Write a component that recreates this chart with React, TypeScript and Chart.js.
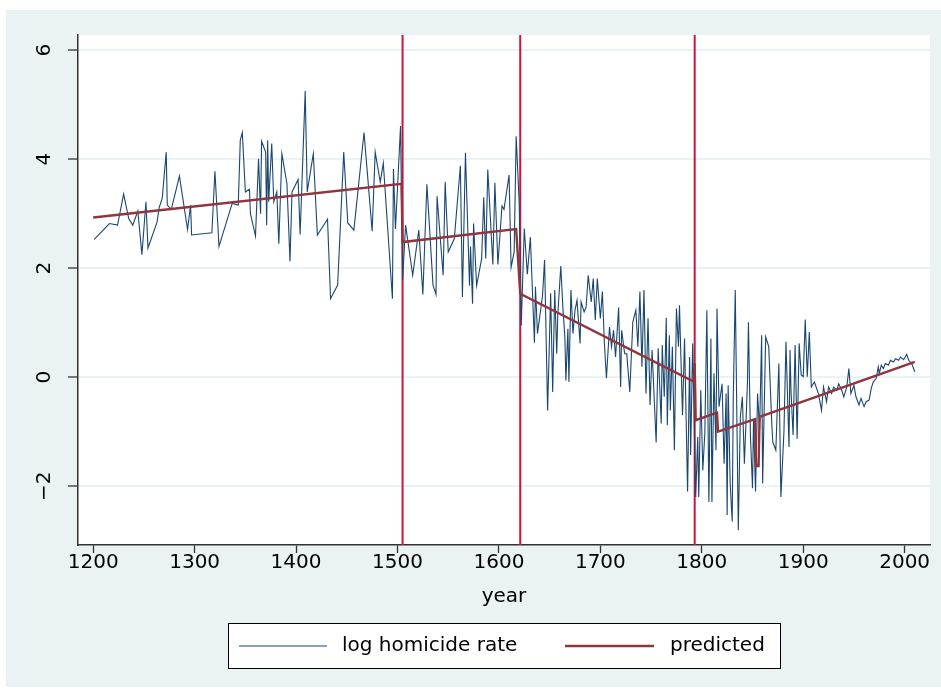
import React, { useEffect, useRef } from 'react';
import { Chart, registerables } from 'chart.js';

Chart.register(...registerables);

// ---- data ----
const years: number[] = [
  1201, 1216, 1224, 1230, 1235, 1239, 1244, 1248, 1252, 1254, 1263, 1265, 1268, 1272, 1273, 1277, 1285, 1293, 1296, 1297,
  1317, 1320, 1324, 1337, 1343, 1345, 1347, 1350, 1354, 1355, 1360, 1363, 1365, 1366, 1370, 1371, 1372, 1373, 1376, 1378,
  1381, 1383, 1386, 1391, 1394, 1396, 1402, 1404, 1409, 1411, 1417, 1421, 1431, 1434, 1441, 1447, 1451, 1457, 1467, 1475,
  1478, 1483, 1486, 1495, 1496, 1498, 1503, 1505, 1508, 1515, 1521, 1525, 1529, 1535, 1538, 1539, 1545, 1547, 1550, 1556,
  1562, 1564, 1567, 1571, 1572, 1574, 1575, 1578, 1583, 1585, 1587, 1589, 1594, 1596, 1599, 1603, 1605, 1610, 1612, 1615,
  1617, 1620, 1622, 1625, 1628, 1631, 1635, 1636, 1638, 1643, 1645, 1648, 1651, 1653, 1655, 1657, 1658, 1661, 1663, 1665,
  1666, 1668, 1669, 1671, 1673, 1675, 1677, 1680, 1681, 1684, 1686, 1688, 1691, 1693, 1695, 1697, 1700, 1702, 1704, 1706,
  1709, 1711, 1713, 1715, 1718, 1720, 1721, 1724, 1726, 1729, 1732, 1735, 1737, 1739, 1741, 1743, 1745, 1747, 1749, 1751,
  1755, 1757, 1760, 1761, 1763, 1765, 1766, 1768, 1769, 1771, 1773, 1775, 1777, 1778, 1781, 1783, 1786, 1788, 1789, 1791,
  1794, 1796, 1797, 1799, 1801, 1803, 1805, 1807, 1809, 1810, 1812, 1814, 1815, 1817, 1820, 1822, 1824, 1825, 1826, 1828,
  1830, 1831, 1833, 1836, 1838, 1840, 1842, 1845, 1846, 1848, 1850, 1851, 1853, 1855, 1857, 1859, 1860, 1863, 1866, 1869,
  1870, 1873, 1876, 1878, 1881, 1883, 1886, 1887, 1888, 1890, 1892, 1894, 1896, 1898, 1900, 1902, 1904, 1906, 1908, 1911,
  1915, 1918, 1920, 1923, 1925, 1928, 1930, 1933, 1935, 1938, 1940, 1943, 1945, 1947, 1950, 1952, 1955, 1957, 1960, 1962,
  1965, 1967, 1969, 1972, 1974, 1975, 1977, 1979, 1981, 1984, 1986, 1989, 1991, 1994, 1996, 1999, 2002, 2004, 2007, 2010,
];

const logRate: number[] = [
  2.53, 2.82, 2.79, 3.36, 2.91, 2.79, 3.05, 2.25, 3.22, 2.37, 2.85, 3.11, 3.28, 4.13, 3.16, 3.08, 3.69, 2.71, 3.16, 2.61,
  2.65, 3.78, 2.40, 3.19, 3.16, 4.35, 4.49, 3.40, 3.45, 3.00, 2.59, 4.01, 3.00, 4.33, 4.13, 2.79, 4.35, 3.22, 4.29, 3.22,
  3.40, 2.45, 4.10, 3.55, 2.13, 3.40, 3.63, 2.62, 5.25, 3.40, 4.10, 2.61, 2.90, 1.44, 1.69, 4.13, 2.83, 2.70, 4.49, 2.68,
  4.13, 3.58, 3.93, 1.44, 3.82, 2.72, 4.61, 1.78, 2.79, 1.87, 2.70, 1.52, 3.54, 1.69, 1.52, 3.32, 1.87, 3.58, 2.30, 2.54,
  3.88, 1.47, 4.12, 1.68, 2.40, 1.35, 2.82, 1.68, 2.18, 3.30, 2.18, 3.81, 2.07, 3.57, 2.07, 3.14, 3.08, 3.71, 2.02, 2.30,
  4.42, 3.19, 0.95, 2.73, 1.89, 2.57, 0.63, 1.66, 0.80, 1.50, 2.15, -0.61, 1.54, -0.27, 1.60, 0.43, 1.14, 2.04, 1.29, 0.74,
  -0.06, 0.89, -0.09, 1.60, 0.80, 1.23, 1.41, 0.62, 1.38, 1.20, 1.29, 1.87, 1.38, 1.81, 1.05, 1.81, 1.08, 1.57, 0.62, -0.02,
  0.92, 0.56, 0.86, 0.37, 1.28, -0.18, 0.86, 0.43, 0.43, -0.27, 1.01, 1.23, 0.56, 1.57, 0.19, 1.60, -0.30, 1.08, -0.51, 0.50,
  -1.20, 0.53, -0.85, 0.59, -0.36, 1.09, -0.88, 0.77, -0.61, 0.56, -1.34, 1.26, 0.56, 1.32, -0.70, 0.71, -2.10, 0.37, -1.43, 0.62,
  -2.20, -1.10, -2.20, -0.24, -1.71, -1.03, 1.23, -2.29, 0.71, -2.29, 0.07, -1.34, 1.26, -0.54, -0.12, -1.59, -0.30, -2.53, -0.15, -1.95,
  -2.65, -0.42, 1.60, -2.81, -0.73, -0.36, -1.59, -0.12, 1.01, -1.10, -2.04, -0.79, -2.10, -0.30, -0.97, 0.77, -1.95, 0.74, 0.56, -0.85,
  -1.19, -1.34, 0.25, -2.20, -1.00, 0.65, -1.28, 0.50, -0.27, -1.06, 0.59, -1.13, 0.62, 0.04, 0.01, 1.06, 0.01, 0.83, -0.18, -0.09,
  -0.30, -0.61, -0.18, -0.45, -0.18, -0.30, -0.18, -0.24, -0.12, -0.24, -0.36, -0.18, 0.16, -0.30, -0.15, -0.36, -0.51, -0.39, -0.54, -0.45,
  -0.42, -0.21, -0.09, -0.02, 0.19, 0.07, 0.22, 0.16, 0.25, 0.22, 0.31, 0.28, 0.34, 0.31, 0.37, 0.32, 0.42, 0.31, 0.25, 0.10,
];

const predYears: number[] = [1200, 1504, 1505, 1617, 1621, 1792, 1793, 1794, 1815, 1816, 1852.5, 1853.5, 1856, 1857, 2010];
const predicted: number[] = [2.93, 3.55, 2.48, 2.72, 1.53, -0.08, 0.25, -0.79, -0.65, -1.0, -0.77, -1.63, -1.63, -0.73, 0.28];

const breakYears: number[] = [1505, 1621, 1793];

const xTicks: number[] = [1200, 1300, 1400, 1500, 1600, 1700, 1800, 1900, 2000];
const yTicks: number[] = [-2, 0, 2, 4, 6];
const xMin = 1185;
const xMax = 2025;
const yMin = -3.08;
const yMax = 6.28;

const seriesLabels: string[] = ['log homicide rate', 'predicted'];
const xTitle = 'year';

const BLUE = '#1a476f';
const MAROON = '#90353b';
const XLINE = '#cf1339';
const BG = '#eaf2f3';
const FONT = '"DejaVu Sans", "Liberation Sans", sans-serif';
const FSIZE = 20;

const decorPlugin = {
  id: 'stataDecor',
  beforeDraw(chart: any) {
    const { ctx, chartArea } = chart;
    ctx.save();
    ctx.fillStyle = '#ffffff';
    ctx.fillRect(0, 0, chart.width, chart.height);
    ctx.fillStyle = BG;
    ctx.fillRect(6, 10, chart.width - 6, 677);
    ctx.fillStyle = '#ffffff';
    ctx.fillRect(chartArea.left, chartArea.top, chartArea.right - chartArea.left, chartArea.bottom - chartArea.top);
    ctx.restore();
  },
  afterDraw(chart: any) {
    const { ctx, chartArea } = chart;
    const yScale = chart.scales.y;
    ctx.save();
    ctx.fillStyle = '#000';
    ctx.font = `${FSIZE}px ${FONT}`;
    // rotated y tick labels
    yTicks.forEach((v) => {
      const py = yScale.getPixelForValue(v);
      ctx.save();
      ctx.translate(45, py);
      ctx.rotate(-Math.PI / 2);
      ctx.textAlign = 'center';
      ctx.textBaseline = 'middle';
      ctx.fillText(v < 0 ? '\u2212' + Math.abs(v) : String(v), 0, 0);
      ctx.restore();
    });
    // x title
    ctx.textAlign = 'center';
    ctx.textBaseline = 'middle';
    ctx.fillText(xTitle, (chartArea.left + chartArea.right) / 2, 597);
    // legend
    ctx.fillStyle = '#fff';
    ctx.fillRect(228, 623, 552, 45);
    ctx.strokeStyle = '#000';
    ctx.lineWidth = 1;
    ctx.strokeRect(228.5, 623.5, 552, 45);
    const ly = 646;
    ctx.lineWidth = 1.1;
    ctx.strokeStyle = BLUE;
    ctx.beginPath();
    ctx.moveTo(239, ly);
    ctx.lineTo(327, ly);
    ctx.stroke();
    ctx.lineWidth = 2.4;
    ctx.strokeStyle = MAROON;
    ctx.beginPath();
    ctx.moveTo(565, ly);
    ctx.lineTo(654, ly);
    ctx.stroke();
    ctx.fillStyle = '#000';
    ctx.textAlign = 'left';
    ctx.fillText(seriesLabels[0], 342, ly);
    ctx.fillText(seriesLabels[1], 670, ly);
    ctx.restore();
  },
};

export default function App() {
  const canvasRef = useRef<HTMLCanvasElement | null>(null);

  useEffect(() => {
    if (!canvasRef.current) return;
    const rateData = years.map((x, i) => ({ x, y: logRate[i] }));
    const predData = predYears.map((x, i) => ({ x, y: predicted[i] }));
    const breakSets = breakYears.map((b) => ({
      label: 'break ' + b,
      data: [
        { x: b, y: yMin },
        { x: b, y: yMax },
      ],
      borderColor: XLINE,
      borderWidth: 2,
      pointRadius: 0,
      order: 2,
      tension: 0,
    }));

    const chart = new Chart(canvasRef.current, {
      type: 'line',
      data: {
        datasets: [
          {
            label: seriesLabels[1],
            data: predData,
            borderColor: MAROON,
            borderWidth: 2.4,
            pointRadius: 0,
            tension: 0,
            order: 0,
          },
          {
            label: seriesLabels[0],
            data: rateData,
            borderColor: BLUE,
            borderWidth: 1.1,
            pointRadius: 0,
            tension: 0,
            order: 1,
          },
          ...breakSets,
        ] as any,
      },
      options: {
        responsive: false,
        animation: false,
        devicePixelRatio: 1,
        layout: { padding: { left: 0, right: 11, top: 35, bottom: 0 } },
        plugins: {
          legend: { display: false },
          tooltip: { enabled: false },
        },
        scales: {
          x: {
            type: 'linear',
            min: xMin,
            max: xMax,
            afterBuildTicks: (s: any) => {
              s.ticks = xTicks.map((v) => ({ value: v }));
            },
            afterFit: (s: any) => {
              s.height = 148;
            },
            ticks: {
              autoSkip: false,
              maxRotation: 0,
              minRotation: 0,
              padding: -2,
              color: '#000',
              font: { family: FONT, size: FSIZE },
              callback: (v: any) => String(v),
            },
            grid: {
              drawOnChartArea: false,
              drawTicks: true,
              tickLength: 8,
              tickColor: '#333',
              tickWidth: 1.3,
            },
            border: { color: '#333', width: 1.5 },
          },
          y: {
            type: 'linear',
            min: yMin,
            max: yMax,
            afterBuildTicks: (s: any) => {
              s.ticks = yTicks.map((v) => ({ value: v }));
            },
            afterFit: (s: any) => {
              s.width = 78;
            },
            ticks: { display: false },
            grid: {
              color: BG,
              lineWidth: 2,
              drawTicks: true,
              tickLength: 10,
              tickColor: '#333',
              tickWidth: 1.3,
            },
            border: { color: '#333', width: 1.5 },
          },
        },
      } as any,
      plugins: [decorPlugin],
    });
    return () => chart.destroy();
  }, []);

  return (
    <div style={{ position: 'fixed', left: 0, top: 0, width: 941, height: 693, background: '#fff' }}>
      <canvas ref={canvasRef} width={941} height={693} style={{ display: 'block', width: 941, height: 693 }} />
    </div>
  );
}
